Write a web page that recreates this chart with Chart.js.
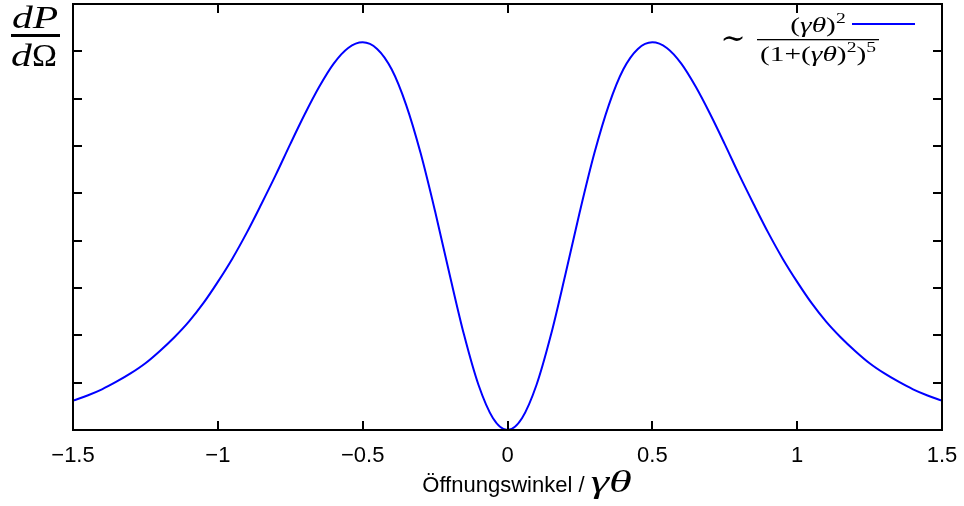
<!DOCTYPE html>
<html>
<head>
<meta charset="utf-8">
<script src="https://cdn.jsdelivr.net/npm/chart.js@4.4.1/dist/chart.umd.min.js"></script>
<style>
  html, body { margin: 0; padding: 0; background: #fff; }
  canvas { display: block; }
</style>
</head>
<body>
<canvas id="radChart" width="964" height="506"></canvas>
<script>
// opening angle gamma*theta
var angles = [
  -1.5, -1.45, -1.4, -1.35, -1.3, -1.25, -1.2, -1.15, -1.1, -1.05,
  -1.0, -0.95, -0.9, -0.85, -0.8, -0.75, -0.7, -0.65, -0.6, -0.55,
  -0.5, -0.45, -0.4, -0.35, -0.3, -0.25, -0.2, -0.15, -0.1, -0.05,
  0,
  0.05, 0.1, 0.15, 0.2, 0.25, 0.3, 0.35, 0.4, 0.45, 0.5,
  0.55, 0.6, 0.65, 0.7, 0.75, 0.8, 0.85, 0.9, 0.95, 1.0,
  1.05, 1.1, 1.15, 1.2, 1.25, 1.3, 1.35, 1.4, 1.45, 1.5
];
// radiated power per solid angle (arb. units)
var power = [
  0.0062, 0.0073, 0.0086, 0.0102, 0.0120, 0.0141, 0.0167, 0.0196, 0.0229, 0.0268,
  0.0313, 0.0362, 0.0417, 0.0477, 0.0539, 0.0604, 0.0667, 0.0725, 0.0774, 0.0807,
  0.0819, 0.0805, 0.0762, 0.0687, 0.0585, 0.0462, 0.0329, 0.0201, 0.0095, 0.0025,
  0,
  0.0025, 0.0095, 0.0201, 0.0329, 0.0462, 0.0585, 0.0687, 0.0762, 0.0805, 0.0819,
  0.0807, 0.0774, 0.0725, 0.0667, 0.0604, 0.0539, 0.0477, 0.0417, 0.0362, 0.0313,
  0.0268, 0.0229, 0.0196, 0.0167, 0.0141, 0.0120, 0.0102, 0.0086, 0.0073, 0.0062
];
var xTickStep = 0.5;
var yTickStep = 0.01;

var sans = '"Liberation Sans", Arial, sans-serif';
var serif = '"Liberation Serif", "DejaVu Serif", serif';

// draw a run of [text, font, raise, stretch] pieces centred on cx
function drawRun(c, parts, cx, baseline) {
  var total = 0;
  parts.forEach(function(p) {
    c.font = p[1];
    p.sx = p[3] || 1;
    p.w = c.measureText(p[0]).width * p.sx;
    total += p.w;
  });
  var x = cx - total / 2;
  c.textAlign = 'left';
  parts.forEach(function(p) {
    c.save();
    c.font = p[1];
    c.translate(x, baseline - (p[2] || 0));
    c.scale(p.sx, 1);
    c.fillText(p[0], 0, 0);
    c.restore();
    x += p.w;
  });
  return total;
}

// frame with inward ticks on all four sides, axis titles and key
var framePlugin = {
  id: 'frame',
  afterDraw: function(chart) {
    var c = chart.ctx, a = chart.chartArea;
    var xs = chart.scales.x, ys = chart.scales.y;
    var tl = 9;
    c.save();
    c.strokeStyle = '#000';
    c.lineWidth = 2;
    c.beginPath();
    xs.ticks.forEach(function(t) {
      var px = Math.round(xs.getPixelForValue(t.value));
      c.moveTo(px, a.bottom); c.lineTo(px, a.bottom - tl);
      c.moveTo(px, a.top); c.lineTo(px, a.top + tl);
    });
    ys.ticks.forEach(function(t) {
      var py = Math.round(ys.getPixelForValue(t.value));
      c.moveTo(a.left, py); c.lineTo(a.left + tl, py);
      c.moveTo(a.right, py); c.lineTo(a.right - tl, py);
    });
    c.stroke();
    c.strokeRect(a.left, a.top, a.right - a.left, a.bottom - a.top);

    c.fillStyle = '#000';
    c.textBaseline = 'alphabetic';

    // x title
    drawRun(c, [['Öffnungswinkel / ', '22px ' + sans], ['γθ', 'italic 32px ' + serif, 0, 1.45]], 527, 492);

    // y title as fraction dP / dΩ
    var big = 'italic 32px ' + serif, up = '32px ' + serif;
    drawRun(c, [['dP', big, 0, 1.3]], 35, 28);
    drawRun(c, [['d', big, 0, 1.3], ['Ω', up, 0, 1.05]], 34, 66);
    c.fillRect(11, 34, 49, 3);

    // key
    var k = 1.4;
    var f = '21px ' + serif, fi = 'italic 21px ' + serif, fs = '14px ' + serif;
    c.font = '30px ' + serif;
    c.textAlign = 'center';
    c.fillText('\u223C', 733, 48);
    drawRun(c, [['(', f, 0, k], ['γθ', fi, 0, k], [')', f, 0, k], ['2', fs, 9, k]], 818, 32);
    drawRun(c, [['(1+(', f, 0, k], ['γθ', fi, 0, k], [')', f, 0, k], ['2', fs, 9, k],
                [')', f, 0, k], ['5', fs, 9, k]], 818, 61);
    c.fillRect(757, 39, 122, 1.3);
    c.strokeStyle = '#0000ff';
    c.lineWidth = 2;
    c.beginPath();
    c.moveTo(852, 24); c.lineTo(915, 24);
    c.stroke();
    c.restore();
  }
};

var ctx = document.getElementById('radChart').getContext('2d');
var radChart = new Chart(ctx, {
  type: 'line',
  data: {
    labels: angles,
    datasets: [{
      label: 'dP/dΩ',
      data: angles.map(function(x, i) { return { x: x, y: power[i] }; }),
      borderColor: '#0000ff',
      borderWidth: 2,
      pointRadius: 0,
      fill: false,
      cubicInterpolationMode: 'monotone'
    }]
  },
  options: {
    responsive: false,
    animation: false,
    layout: { padding: { top: 4, right: 22, left: 0, bottom: 0 } },
    plugins: { legend: { display: false }, tooltip: { enabled: false } },
    scales: {
      x: {
        type: 'linear',
        min: -1.5,
        max: 1.5,
        grid: { display: false, drawTicks: false },
        border: { display: false },
        ticks: {
          stepSize: xTickStep,
          color: '#000',
          padding: 13,
          maxRotation: 0,
          font: { family: sans, size: 22 },
          callback: function(v) { return String(v).replace('-', '\u2212'); }
        },
        afterFit: function(s) { s.height = 76; s.paddingLeft = 0; s.paddingRight = 0; }
      },
      y: {
        min: 0,
        max: 0.09,
        grid: { display: false, drawTicks: false },
        border: { display: false },
        ticks: { stepSize: yTickStep, display: false },
        afterFit: function(s) { s.width = 73; }
      }
    }
  },
  plugins: [framePlugin]
});
</script>
</body>
</html>
